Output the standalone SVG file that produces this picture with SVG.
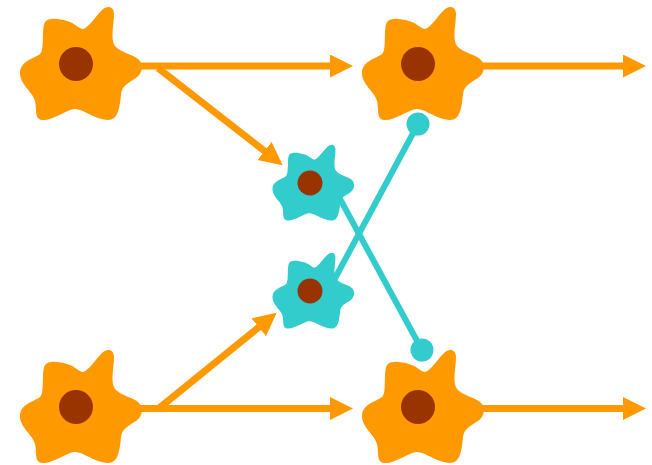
<svg xmlns="http://www.w3.org/2000/svg" width="652" height="465" viewBox="0 0 652 465">
  <defs>
    <style>
      .excit { fill: none; stroke: #FF9900; stroke-width: 7; }
      .inhib { fill: none; stroke: #33CCCC; stroke-width: 6; }
      .orange { fill: #FF9900; }
      .cyan { fill: #33CCCC; }
      .nucleus { fill: #993300; }
    </style>
    <!-- Cell body outline, centred on the nucleus -->
    <path id="soma" d="M -31,-42 C -27,-47 -17,-45 -9,-43 C -1,-41 3,-35 7,-35 C 12,-36 20,-48 26,-54 C 31,-59 38,-58 38,-50 C 38,-40 34,-25 39,-18 C 45,-11 56,-10 62,-5 C 68,0 67,9 60,14 C 52,19 46,22 45,30 C 44,40 43,50 38,54 C 33,58 24,55 15,51 C 7,47 3,45 -2,45 C -10,46 -24,57 -34,56 C -42,55 -39,45 -41,37 C -43,28 -57,20 -56,8 C -55,-3 -43,-5 -36,-10 C -31,-14 -35,-35 -31,-42 Z"/>
    <marker id="head" markerUnits="userSpaceOnUse" markerWidth="24" markerHeight="24" refX="11" refY="11.5" orient="auto" viewBox="0 0 24 24">
      <path d="M0,0 L23,11.5 L0,23 Z" fill="#FF9900"/>
    </marker>
  </defs>

  <g id="connectors">
    <line class="excit" x1="76" y1="66" x2="341" y2="66" marker-end="url(#head)"/>
    <line class="excit" x1="418" y1="66" x2="634" y2="66" marker-end="url(#head)"/>
    <line class="excit" x1="76" y1="408.5" x2="341" y2="408.5" marker-end="url(#head)"/>
    <line class="excit" x1="418" y1="408.5" x2="634" y2="408.5" marker-end="url(#head)"/>
    <line class="excit" x1="158" y1="68" x2="273.2" y2="157.8" marker-end="url(#head)"/>
    <line class="excit" x1="158" y1="409" x2="267.3" y2="320.3" marker-end="url(#head)"/>
    <line class="inhib" x1="333" y1="186" x2="422" y2="350"/>
    <line class="inhib" x1="333" y1="282" x2="418" y2="124"/>
    <circle class="cyan" cx="422" cy="350" r="11.5"/>
  </g>

  <g id="cell-top-left">
    <use href="#soma" class="orange" transform="translate(76,64)"/>
    <circle class="nucleus" cx="76" cy="64" r="17"/>
  </g>
  <g id="cell-top-right">
    <use href="#soma" class="orange" transform="translate(418,64)"/>
    <circle class="nucleus" cx="418" cy="64" r="17"/>
  </g>
  <g id="cell-bottom-left">
    <use href="#soma" class="orange" transform="translate(76,407)"/>
    <circle class="nucleus" cx="76" cy="407" r="17"/>
  </g>
  <g id="cell-bottom-right">
    <use href="#soma" class="orange" transform="translate(418,407)"/>
    <circle class="nucleus" cx="418" cy="407" r="17"/>
  </g>
  <g id="inter-top">
    <use href="#soma" class="cyan" transform="translate(310,183) scale(0.67)"/>
    <circle class="nucleus" cx="310" cy="183" r="12.5"/>
  </g>
  <g id="inter-bottom">
    <use href="#soma" class="cyan" transform="translate(310,291) scale(0.67)"/>
    <circle class="nucleus" cx="310" cy="291" r="12.5"/>
  </g>
  <g id="synapse-top">
    <circle class="cyan" cx="418" cy="124" r="11.5"/>
  </g>
</svg>
